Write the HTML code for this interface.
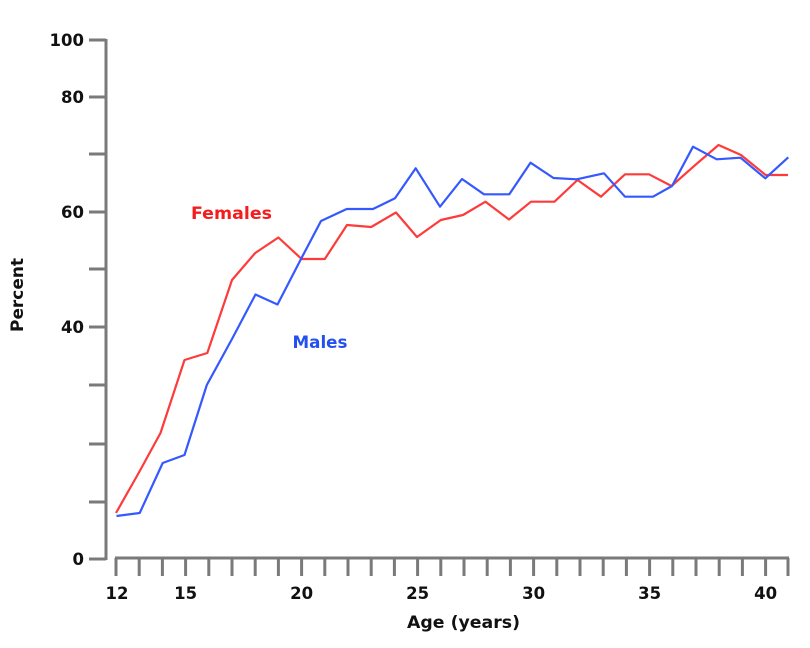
<!DOCTYPE html>
<html><head><meta charset="utf-8"><style>
html,body{margin:0;padding:0;background:#fff;}
svg{display:block;}
text{font-family:"DejaVu Sans","Liberation Sans",sans-serif;font-weight:bold;}
</style></head><body>
<svg width="810" height="648" viewBox="0 0 810 648" xmlns="http://www.w3.org/2000/svg">
<g stroke="#7a7a7a" stroke-width="3" fill="none">
<line x1="106" y1="39" x2="106" y2="560"/>
<line x1="89" y1="40" x2="106" y2="40"/>
<line x1="89" y1="97" x2="106" y2="97"/>
<line x1="89" y1="154" x2="106" y2="154"/>
<line x1="89" y1="212" x2="106" y2="212"/>
<line x1="89" y1="269" x2="106" y2="269"/>
<line x1="89" y1="327" x2="106" y2="327"/>
<line x1="89" y1="385" x2="106" y2="385"/>
<line x1="89" y1="444" x2="106" y2="444"/>
<line x1="89" y1="502" x2="106" y2="502"/>
<line x1="89" y1="559" x2="106" y2="559"/>
<line x1="115" y1="558" x2="789" y2="558"/>
<path d="M116 558V576M139.2 558V576M162.4 558V576M185.6 558V576M208.8 558V576M232 558V576M255.2 558V576M278.4 558V576M301.6 558V576M324.8 558V576M348 558V576M371.2 558V576M394.4 558V576M417.6 558V576M440.8 558V576M464 558V576M487.2 558V576M510.4 558V576M533.6 558V576M556.8 558V576M580 558V576M603.2 558V576M626.4 558V576M649.6 558V576M672.8 558V576M696 558V576M719.2 558V576M742.4 558V576M765.6 558V576M788 558V576"/>
</g>
<g font-size="16.5" fill="#111" text-anchor="end">
<text x="84" y="46">100</text>
<text x="84" y="103">80</text>
<text x="84" y="218">60</text>
<text x="84" y="333">40</text>
<text x="84" y="565">0</text>
</g>
<g font-size="16.5" fill="#111" text-anchor="middle">
<text x="117" y="599">12</text>
<text x="185.6" y="599">15</text>
<text x="301.6" y="599">20</text>
<text x="417.6" y="599">25</text>
<text x="533.6" y="599">30</text>
<text x="649.6" y="599">35</text>
<text x="765.6" y="599">40</text>
</g>
<text x="463.5" y="628" font-size="16.5" fill="#111" text-anchor="middle" textLength="113" lengthAdjust="spacingAndGlyphs">Age (years)</text>
<text transform="translate(23,295) rotate(-90)" font-size="16.5" fill="#111" text-anchor="middle" textLength="74" lengthAdjust="spacingAndGlyphs">Percent</text>
<text x="191" y="219" font-size="16.5" fill="#f41c1c" textLength="81" lengthAdjust="spacingAndGlyphs">Females</text>
<text x="292.5" y="348" font-size="16.5" fill="#2450f0" textLength="55" lengthAdjust="spacingAndGlyphs">Males</text>
<polyline fill="none" stroke="#ff3a3a" stroke-width="2.2" stroke-linejoin="round" points="116,513 139.2,472 160.5,433 184.5,360 207.3,353 232,280 255.2,253 278.4,237.5 301.6,259 324.8,259 347,225 371.2,227 396,212.5 417,237 440.8,220 463,215 485.5,201.7 509,219.5 531,201.7 554.5,201.7 577.5,180 601,196.7 625,174.3 649,174.3 671.5,186 694.5,165.7 718.5,145 741,155 765.6,175 788,175"/>
<polyline fill="none" stroke="#3558ff" stroke-width="2.2" stroke-linejoin="round" points="116.5,516 139.7,513 162.7,463 184.5,455 206.8,385 232,339 255.5,294.5 277.5,304.5 301,259 321,221 346.7,209 373,209 395,198.3 415.7,168.3 440,206.7 462,179 484,194.3 509.3,194.3 530.5,162.7 553.5,178 576.7,179.3 604,173.3 625,196.7 653,196.7 672,186 693,146.7 716.7,159.3 740.5,157.7 765.3,178.3 788.3,157.3"/>
</svg>
</body></html>
